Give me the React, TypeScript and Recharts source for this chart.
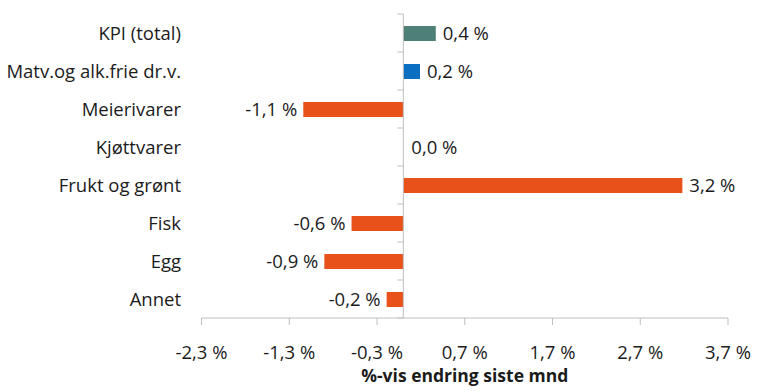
import { BarChart, Bar, XAxis, YAxis, Cell, LabelList, ReferenceLine } from 'recharts';

const categories = ['KPI (total)', 'Matv.og alk.frie dr.v.', 'Meierivarer', 'Kjøttvarer', 'Frukt og grønt', 'Fisk', 'Egg', 'Annet'];
const changes = [0.37, 0.19, -1.14, 0.0, 3.18, -0.59, -0.9, -0.19];
const barColors = ['#4F8078', '#0A6FC1', '#E8511A', '#E8511A', '#E8511A', '#E8511A', '#E8511A', '#E8511A'];
const xTicks = [-2.3, -1.3, -0.3, 0.7, 1.7, 2.7, 3.7];
const xTitle = '%-vis endring siste mnd';

const W = 768;
const H = 391;
const margin = { top: 14, right: 40, bottom: 4, left: 0 };
const yAxisWidth = 201.5;
const xAxisHeight = 69;
const domain = [xTicks[0], xTicks[xTicks.length - 1]];
const plotW = W - margin.left - margin.right - yAxisWidth;
const plotH = H - margin.top - margin.bottom - xAxisHeight;
const band = plotH / categories.length;
const zeroX = margin.left + yAxisWidth + ((0 - domain[0]) / (domain[1] - domain[0])) * plotW;

const font = "'Open Sans', sans-serif";
const fs = 18.5;
const textColor = '#1b1b1b';
const axisColor = '#BFBFBF';

const data = categories.map((name, i) => ({ name, value: changes[i] }));

const fmt = (v: number) => `${v.toFixed(1).replace('.', ',').replace('-0,0', '0,0')} %`;

function CategoryTick(props: any) {
  const { y, payload, index } = props;
  const top = y - band / 2;
  return (
    <g>
      <text x={181} y={y} dy={6.5} textAnchor="end" fontSize={fs} fontFamily={font} fill={textColor}>
        {payload.value}
      </text>
      <line x1={zeroX - 6} x2={zeroX} y1={top} y2={top} stroke={axisColor} />
      {index === categories.length - 1 && (
        <line x1={zeroX - 6} x2={zeroX} y1={top + band} y2={top + band} stroke={axisColor} />
      )}
    </g>
  );
}

function ValueLabel(props: any) {
  const { x, y, width, height, value } = props;
  const left = Math.min(x, x + width);
  const right = Math.max(x, x + width);
  const neg = value < 0;
  return (
    <text
      x={neg ? left - 6 : right + 7}
      y={y + height / 2}
      dy={6.5}
      textAnchor={neg ? 'end' : 'start'}
      fontSize={fs}
      fontFamily={font}
      fill={textColor}
    >
      {fmt(value)}
    </text>
  );
}

export default function App() {
  return (
    <div style={{ position: 'absolute', left: 0, top: 0, width: W, height: H, background: '#fff' }}>
      <BarChart width={W} height={H} data={data} layout="vertical" margin={margin} barSize={15}>
        <XAxis
          type="number"
          domain={domain}
          ticks={xTicks}
          interval={0}
          allowDataOverflow
          stroke={axisColor}
          tickSize={7}
          tickMargin={21}
          height={xAxisHeight}
          tick={{ fontSize: fs, fontFamily: font, fill: textColor }}
          tickFormatter={fmt}
          label={{
            value: xTitle,
            position: 'insideBottom',
            offset: 5,
            style: { fontSize: 17.5, fontWeight: 700, fontFamily: font, fill: textColor },
          }}
        />
        <YAxis
          type="category"
          dataKey="name"
          width={yAxisWidth}
          axisLine={false}
          tickLine={false}
          interval={0}
          tick={<CategoryTick />}
        />
        <ReferenceLine x={0} stroke={axisColor} ifOverflow="extendDomain" />
        <Bar dataKey="value" isAnimationActive={false} minPointSize={(v: number) => (v === 0 ? 1 : 0)}>
          {data.map((d, i) => (
            <Cell key={d.name} fill={d.value === 0 ? 'transparent' : barColors[i]} />
          ))}
          <LabelList dataKey="value" content={<ValueLabel />} />
        </Bar>
      </BarChart>
    </div>
  );
}
